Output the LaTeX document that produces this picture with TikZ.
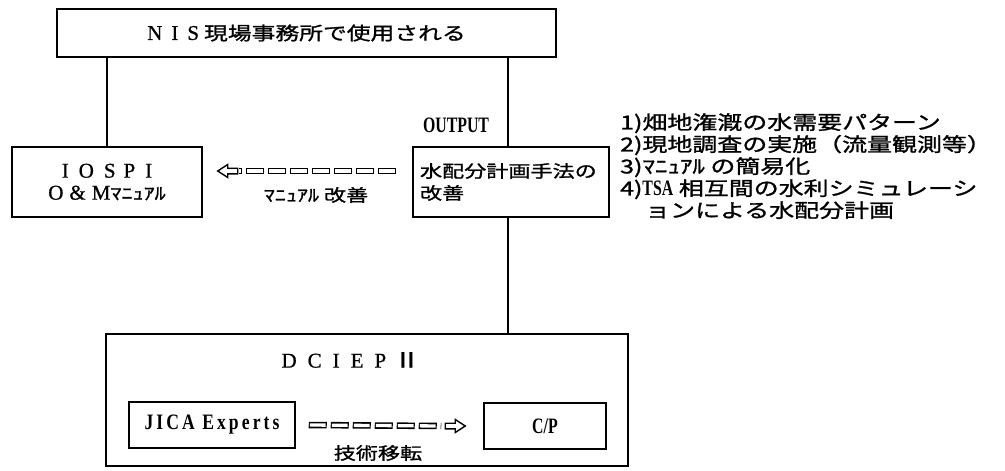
\documentclass[tikz,border=0pt]{standalone}
\usepackage{fontspec}
\setmainfont{Liberation Serif}
\newfontfamily\jp[FakeStretch=1.3,FakeBold=1.2]{Noto Sans CJK JP}
\newfontfamily\lat[FakeBold=0.8]{Liberation Serif}
\newfontfamily\latb[FakeStretch=0.8,LetterSpace=14]{Liberation Serif Bold}
\newfontfamily\latc[FakeStretch=0.72]{Liberation Serif Bold}
\usetikzlibrary{calc}
\begin{document}
\begin{tikzpicture}[x=1pt,y=-1pt,
  bx/.style={draw, line width=1.5pt, inner sep=0pt},
  ln/.style={line width=1.5pt},
  jpf/.style={font=\jp\fontsize{17}{22}\selectfont},
  lstf/.style={font=\jp\fontsize{19.2}{22}\selectfont},
  serf/.style={font=\lat\fontsize{21}{22}\selectfont},
  chain/.style={line width=6.5pt, dash pattern=on 18pt off 4pt,
     postaction={draw=white, line width=3.3pt, dash pattern=on 15.6pt off 6.4pt, dash phase=20.8pt}},
  head/.style={draw, line width=1.4pt, fill=white, line join=miter},
  rhead/.pic={\draw[head] (0,-2.8) -- (10,-2.8) -- (10,-6.5) -- (20,0) -- (10,6.5) -- (10,2.8) -- (0,2.8) -- cycle;},
  lhead/.pic={\draw[head] (0,-2.8) -- (-10,-2.8) -- (-10,-6.5) -- (-20,0) -- (-10,6.5) -- (-10,2.8) -- (0,2.8) -- cycle;}
]
\useasboundingbox[fill=white] (0,0) rectangle (1005,471);

% boxes
\node[bx, minimum width=499pt, minimum height=48pt, font=\jp\fontsize{18.3}{22}\selectfont] (top) at (306.5,33)
  {{\lat\fontsize{21}{22}\selectfont N\hspace{9pt}I\hspace{9pt}S}\hspace{5pt}現場事務所で使用される};
\node[bx, minimum width=190pt, minimum height=70pt, align=center, font=\lat\fontsize{21}{22}\selectfont] (iospi) at (107,182)
  {I\hspace{10pt}O\hspace{10pt}S\hspace{8pt}P\hspace{10pt}I\\
   O\hspace{6pt}\&\hspace{6pt}M{\jp\fontsize{17}{22}\selectfont ﾏﾆｭｱﾙ}};
\node[bx, minimum width=196pt, minimum height=70pt, text width=182pt, align=left, jpf] (water) at (511,182)
  {水配分計画手法の\\改善};
\node[bx, minimum width=522pt, minimum height=132pt] (dciep) at (367,400) {};
\node[serf] (dtitle) at (351,360) {D\hspace{11pt}C\hspace{11pt}I\hspace{11pt}E\hspace{11pt}P\hspace{7pt}{\jp Ⅱ}};
\node[bx, minimum width=166pt, minimum height=46pt, font=\latb\fontsize{22}{24}\selectfont] (jica) at (212,425) {JICA Experts};
\node[bx, minimum width=122pt, minimum height=46pt, font=\latc\fontsize{22}{24}\selectfont] (cp) at (545,426) {C/P};

% labels
\node[font=\latc\fontsize{22}{24}\selectfont] (out) at (456,125) {OUTPUT};
\node[jpf] (mlab) at (316,195) {ﾏﾆｭｱﾙ 改善};
\node[jpf] (tlab) at (378,453) {技術移転};
\node[lstf, align=left, anchor=north west, inner sep=0pt] (list) at (620,113)
  {1)畑地潅漑の水需要パターン\\
   2)現地調査の実施（流量観測等）\\
   3)ﾏﾆｭｱﾙ の簡易化\\
   4){\latc\fontsize{22}{22}\selectfont TSA} 相互間の水利シミュレーシ\\
   　ョンによる水配分計画};

% connectors
\coordinate (rx) at (508,0);
\draw[ln] (top.south -| iospi.north) -- (iospi.north);
\draw[ln] (top.south -| rx) -- (water.north -| rx);
\draw[ln] (water.south -| rx) -- (dciep.north -| rx);

% manual improvement arrow (to IOSPI)
\draw[chain] ($(water.west)+(-16,-11)$) -- ($(iospi.east)+(36,-11)$);
\pic at ($(iospi.east)+(35,-11)$) {lhead};

% technology transfer arrow
\draw[chain] ($(jica.east)+(13,0)$) -- ($(cp.west)+(-42,0)$);
\pic at ($(cp.west)+(-38,0)$) {rhead};
\end{tikzpicture}
\end{document}
